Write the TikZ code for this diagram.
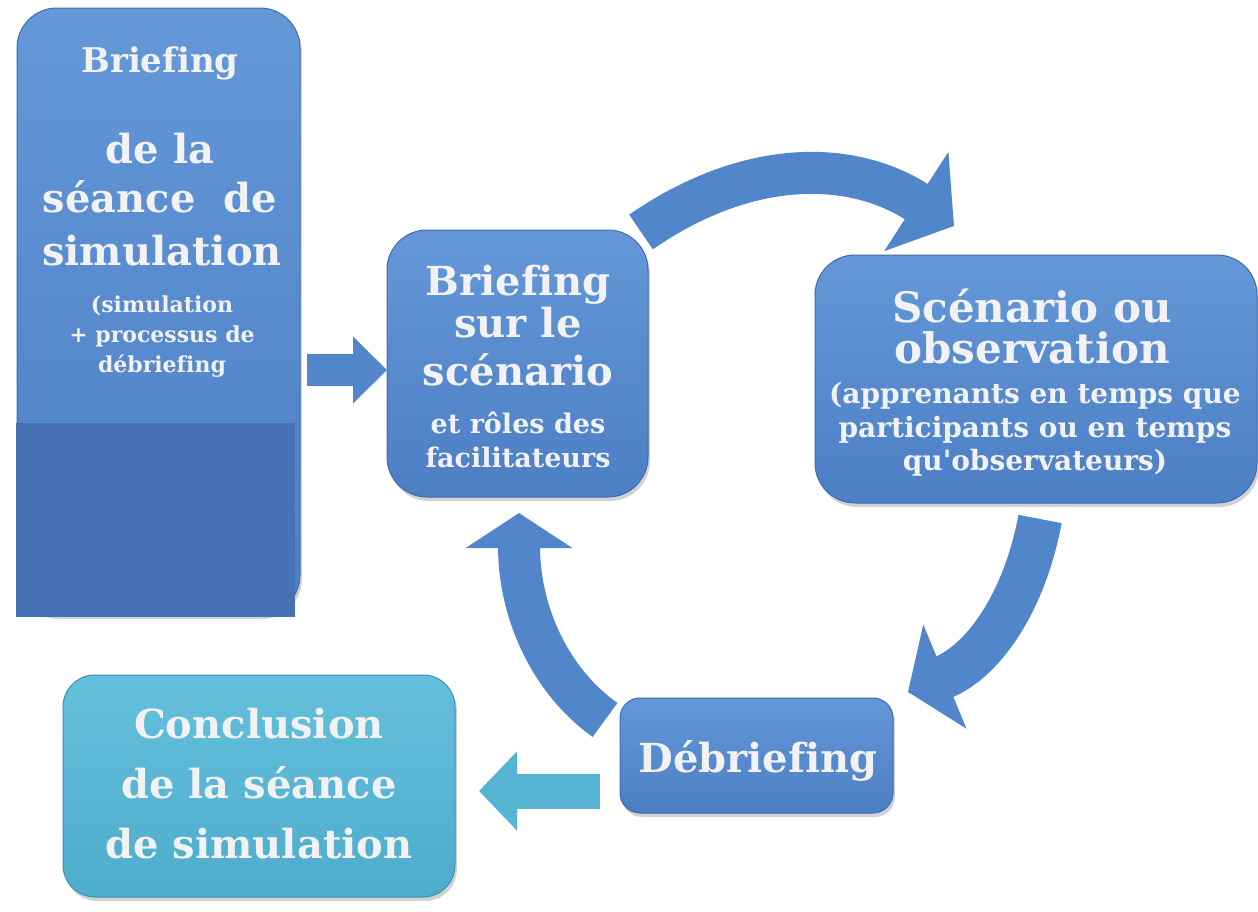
\documentclass[tikz,border=0pt]{standalone}
\usepackage{fontspec}
\setmainfont{DejaVu Serif}[Ligatures={NoCommon,TeXOff}]
\usetikzlibrary{arrows.meta,shadows}
\definecolor{boxtop}{RGB}{100,152,216}
\definecolor{boxbot}{RGB}{76,126,196}
\definecolor{boxedge}{RGB}{64,108,175}
\definecolor{redact}{RGB}{71,112,181}
\definecolor{cyantop}{RGB}{100,192,220}
\definecolor{cyanbot}{RGB}{78,172,204}
\definecolor{cyanedge}{RGB}{58,146,178}
\definecolor{arrowblue}{RGB}{82,134,202}
\definecolor{arrowcyan}{RGB}{86,180,210}
\definecolor{txt}{RGB}{242,242,242}
\tikzset{
  bluebox/.style={rounded corners=#1, inner sep=0pt, top color=boxtop, bottom color=boxbot,
    draw=boxedge, line width=1pt,
    drop shadow={opacity=0.35, shadow xshift=2pt, shadow yshift=-4pt}},
  cyanbox/.style={rounded corners=#1, inner sep=0pt, top color=cyantop, bottom color=cyanbot,
    draw=cyanedge, line width=1pt,
    drop shadow={opacity=0.35, shadow xshift=2pt, shadow yshift=-4pt}},
  lbl/.style={anchor=base, text=txt, font=\bfseries\fontsize{#1}{#1}\selectfont, inner sep=0pt},
  blockarrow/.style n args={4}{line width=#1, draw=#2,
    -{Triangle[width=#3, length=#4]}},
}
\begin{document}
\begin{tikzpicture}[x=1pt,y=-1pt]
\useasboundingbox (0,0) rectangle (1258,911);
\fill[white] (0,0) rectangle (1258,911);

% boxes
\node[bluebox=40pt, minimum width=283pt, minimum height=607pt] (L) at (158.5,311.5) {};
\node[bluebox=40pt, minimum width=261pt, minimum height=267pt] (B) at (517.5,363.5) {};
\node[bluebox=40pt, minimum width=442pt, minimum height=248pt] (S) at (1036,379) {};
\node[bluebox=20pt, minimum width=273pt, minimum height=115pt] (D) at (756.5,755.5) {};
\node[cyanbox=32pt, minimum width=392pt, minimum height=222pt] (C) at (259,786) {};
\node[fill=redact, inner sep=0pt, minimum width=279pt, minimum height=194pt] (R) at (155.5,520) {};

% texts of L
\node[lbl=34] (l1) at (160,72) {Briefing};
\node[lbl=40] (l2) at (160,163) {de la};
\node[lbl=40] (l3) at (160,212) {séance\ \ de};
\node[lbl=40] (l4) at (162,265) {simulation};
\node[lbl=22] (l5) at (162,312) {(simulation};
\node[lbl=22] (l6) at (162,342) {+ processus de};
\node[lbl=22] (l7) at (162,372) {débriefing};

% texts of B
\node[lbl=40] (b1) at (518,295) {Briefing};
\node[lbl=40] (b2) at (518,337) {sur le};
\node[lbl=40] (b3) at (518,385) {scénario};
\node[lbl=27] (b4) at (518,433) {et rôles des};
\node[lbl=27] (b5) at (518,467) {facilitateurs};

% texts of S
\node[lbl=42] (s1) at (1032,322) {Scénario ou};
\node[lbl=42] (s2) at (1032,363) {observation};
\node[lbl=28] (s3) at (1035,403) {(apprenants en temps que};
\node[lbl=28] (s4) at (1035,437) {participants ou en temps};
\node[lbl=28] (s5) at (1035,470) {qu'observateurs)};

% text of D
\node[lbl=40] (d1) at (758,772) {Débriefing};

% texts of C
\node[lbl=40] (c1) at (259,738) {Conclusion};
\node[lbl=40] (c2) at (259,798) {de la séance};
\node[lbl=40] (c3) at (259,858) {de simulation};

% arrow end points
\coordinate (a1s) at (307,370);  \coordinate (a1e) at (387,370);
\coordinate (a2s) at (641,232);  \coordinate (a2e) at (954,226);
\coordinate (a3s) at (1040,519); \coordinate (a3e) at (908,692);
\coordinate (a4s) at (605,720);  \coordinate (a4e) at (519,513);
\coordinate (a5s) at (600,791);  \coordinate (a5e) at (479,791);

\draw[blockarrow={32pt}{arrowblue}{65pt}{34pt}] (a1s) -- (a1e);
\draw[blockarrow={42pt}{arrowblue}{116pt}{45pt}] (a2s) .. controls (745,160) and (849,158) .. (a2e);
\draw[blockarrow={44pt}{arrowblue}{111pt}{40pt}] (a3s) .. controls (1025,600) and (985,660) .. (a3e);
\draw[blockarrow={42pt}{arrowblue}{105pt}{35pt}] (a4s) .. controls (548,679) and (519,610) .. (a4e);
\draw[blockarrow={35pt}{arrowcyan}{77pt}{38pt}] (a5s) -- (a5e);
\end{tikzpicture}
\end{document}
